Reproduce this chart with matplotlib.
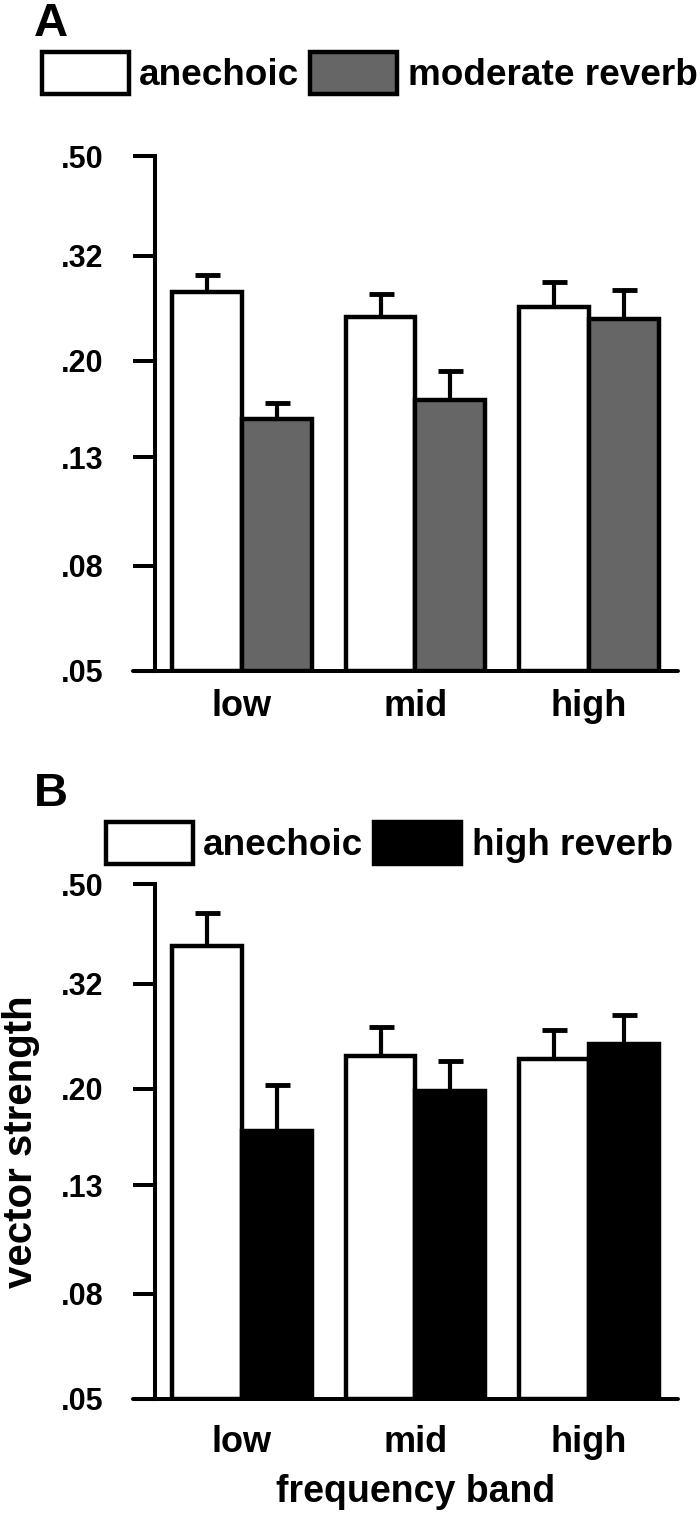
import matplotlib.pyplot as plt
import matplotlib.ticker as mticker
import numpy as np

plt.rcParams["font.family"] = ["Liberation Sans", "DejaVu Sans"]
plt.rcParams["font.weight"] = "bold"

# data (vector strength, log axis)
bands = ["low", "mid", "high"]
yticks = [0.05, 0.08, 0.13, 0.20, 0.32, 0.50]
ytick_labels = [".05", ".08", ".13", ".20", ".32", ".50"]
BASE = 0.05

# panel A
a_anechoic = [0.272, 0.243, 0.255]
a_anechoic_top = [0.294, 0.270, 0.285]
a_moderate = [0.154, 0.168, 0.241]
a_moderate_top = [0.166, 0.191, 0.275]

# panel B
b_anechoic = [0.379, 0.232, 0.229]
b_anechoic_top = [0.440, 0.264, 0.260]
b_high = [0.166, 0.198, 0.245]
b_high_top = [0.204, 0.227, 0.278]

W, H = 700, 1513
fig = plt.figure(figsize=(W / 100, H / 100), dpi=100)

LW = 3.2
BAR_W = 0.403


def panel(rect, lab, s1, t1, s2, t2, name2, color2, legend_xy, letter_xy,
          xpad=13, xlabel=None, ylabel=None):
    ax = fig.add_axes(rect)
    x = np.arange(len(bands))
    s1 = np.array(s1)
    s2 = np.array(s2)
    b1 = ax.bar(x - BAR_W / 2, s1 - BASE, BAR_W, bottom=BASE, color="white",
                edgecolor="black", linewidth=LW, label="anechoic", zorder=3)
    b2 = ax.bar(x + BAR_W / 2, s2 - BASE, BAR_W, bottom=BASE, color=color2,
                edgecolor="black", linewidth=LW, label=name2, zorder=3)
    for xs, v, t in [(x - BAR_W / 2, s1, t1), (x + BAR_W / 2, s2, t2)]:
        up = np.array(t) - v
        ax.errorbar(xs, v, yerr=[np.zeros_like(up), up], fmt="none",
                    ecolor="black", elinewidth=3, capsize=9, capthick=3.5,
                    zorder=2)
    ax.set_yscale("log")
    ax.set_ylim(0.05, 0.5)
    ax.set_xlim(-0.628, 2.513)
    ax.yaxis.set_major_locator(mticker.FixedLocator(yticks))
    ax.yaxis.set_major_formatter(mticker.FixedFormatter(ytick_labels))
    ax.yaxis.set_minor_locator(mticker.NullLocator())
    ax.set_xticks(x)
    ax.set_xticklabels(bands)
    ax.spines["top"].set_visible(False)
    ax.spines["right"].set_visible(False)
    ax.spines["left"].set_position(("data", -0.5))
    ax.spines["left"].set_linewidth(2.9)
    ax.spines["bottom"].set_linewidth(2.9)
    ax.spines["bottom"].set_capstyle("round")
    ax.tick_params(axis="y", length=16, width=2.9, pad=21, labelsize=22)
    ax.tick_params(axis="x", length=0, pad=xpad, labelsize=26)
    for t in ax.get_yticklabels() + ax.get_xticklabels():
        t.set_fontweight("bold")
    if xlabel:
        ax.set_xlabel(xlabel, fontsize=27, fontweight="bold")
        ax.xaxis.set_label_coords(0.519, -0.145)
    if ylabel:
        ax.set_ylabel(ylabel, fontsize=29, fontweight="bold")
        ax.yaxis.set_label_coords(-0.171, 0.5)
    ax.legend(handles=[b1, b2], ncol=2, frameon=False,
              prop={"weight": "bold", "size": 26.6},
              loc="center left", bbox_to_anchor=legend_xy,
              bbox_transform=fig.transFigure, handlelength=2.35,
              handleheight=1.38, handletextpad=0.28, columnspacing=0.3,
              borderpad=0, borderaxespad=0)
    fig.text(letter_xy[0], letter_xy[1], lab, fontsize=34, fontweight="bold",
             ha="left", va="top")
    return ax


def fx(px):
    return px / W


def fy(py):
    return 1 - py / H


panel([fx(133), fy(671), fx(678 - 133), 515 / H], "A",
      a_anechoic, a_anechoic_top, a_moderate, a_moderate_top,
      "moderate reverb", "#666666", (fx(42), fy(73)), (fx(34), fy(2)))
panel([fx(133), fy(1399), fx(678 - 133), 515 / H], "B",
      b_anechoic, b_anechoic_top, b_high, b_high_top,
      "high reverb", "black", (fx(106), fy(843)), (fx(34), fy(772)),
      xpad=19, xlabel="frequency band", ylabel="vector strength")

fig.savefig("out.png", dpi=100)
